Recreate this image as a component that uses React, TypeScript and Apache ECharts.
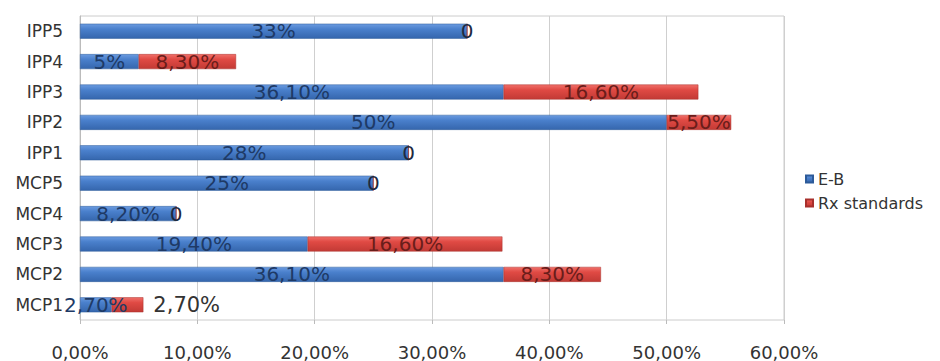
import React, { useEffect, useRef } from "react";
import * as echarts from "echarts";

const categories = ["IPP5", "IPP4", "IPP3", "IPP2", "IPP1", "MCP5", "MCP4", "MCP3", "MCP2", "MCP1"];
const ebValues = [33, 5, 36.1, 50, 28, 25, 8.2, 19.4, 36.1, 2.7];
const rxValues = [0, 8.3, 16.6, 5.5, 0, 0, 0, 16.6, 8.3, 2.7];
const xTicks = [0, 10, 20, 30, 40, 50, 60];
const seriesNames = ["E-B", "Rx standards"];

function fmtValue(v: number): string {
  if (v === 0) return "0";
  if (Number.isInteger(v)) return v + "%";
  return v.toFixed(2).replace(".", ",") + "%";
}

const FONT = "'DejaVu Sans', Verdana, sans-serif";

export default function App() {
  const ref = useRef<HTMLDivElement>(null);
  useEffect(() => {
    if (!ref.current) return;
    const chart = echarts.init(ref.current, null, { renderer: "svg" });
    const blue = new echarts.graphic.LinearGradient(0, 0, 0, 1, [
      { offset: 0, color: "#6b9be0" },
      { offset: 0.35, color: "#4a80cc" },
      { offset: 1, color: "#3566ad" },
    ]);
    const red = new echarts.graphic.LinearGradient(0, 0, 0, 1, [
      { offset: 0, color: "#f0706a" },
      { offset: 0.35, color: "#e04a44" },
      { offset: 1, color: "#c23a35" },
    ]);
    const lastIdx = categories.length - 1;
    chart.setOption({
      animation: false,
      backgroundColor: "#ffffff",
      grid: { left: 80, right: 156, top: 16, bottom: 41, containLabel: false, show: true, borderColor: "#cccccc", borderWidth: 1 },
      legend: {
        orient: "vertical",
        left: 800,
        top: 166,
        itemWidth: 7,
        itemHeight: 7,
        itemGap: 8,
        icon: "rect",
        textStyle: { fontFamily: FONT, fontSize: 16, color: "#333" },
        data: seriesNames,
      },
      xAxis: {
        type: "value",
        min: xTicks[0],
        max: xTicks[xTicks.length - 1],
        interval: 10,
        axisLine: { show: false },
        axisTick: { show: true, length: 4, lineStyle: { color: "#bbb" } },
        splitLine: { show: true, lineStyle: { color: "#cfcfcf", width: 1 } },
        axisLabel: {
          margin: 23,
          fontFamily: FONT,
          fontSize: 18,
          color: "#333",
          formatter: (v: number) => v.toFixed(2).replace(".", ",") + "%",
        },
      },
      yAxis: {
        type: "category",
        inverse: true,
        data: categories,
        axisLine: { show: true, lineStyle: { color: "#bbb" } },
        axisTick: { show: false },
        axisLabel: { margin: 17, fontFamily: FONT, fontSize: 17, color: "#333" },
      },
      series: [
        {
          name: seriesNames[0],
          type: "bar",
          stack: "total",
          barWidth: 15,
          itemStyle: { color: blue, borderColor: "#2c5a99", borderWidth: 0.5 },
          label: {
            show: true,
            position: "inside",
            fontFamily: FONT,
            fontSize: 20,
            color: "#1e3a66",
            formatter: (p: any) => fmtValue(p.value),
          },
          data: ebValues,
        },
        {
          name: seriesNames[1],
          type: "bar",
          stack: "total",
          barWidth: 15,
          itemStyle: { color: red, borderColor: "#a8302c", borderWidth: 0.5 },
          label: {
            show: true,
            position: "inside",
            fontFamily: FONT,
            fontSize: 20,
            color: "#6a1d1a",
            formatter: (p: any) => fmtValue(p.value),
          },
          data: rxValues.map((v, i) =>
            i === lastIdx
              ? { value: v, label: { position: "right", distance: 10, fontSize: 21, color: "#333" } }
              : v === 0
              ? { value: v, label: { color: "#1e2a40" } }
              : v
          ),
        },
      ],
    });
    return () => chart.dispose();
  }, []);
  return <div ref={ref} style={{ position: "fixed", left: 0, top: 0, width: 940, height: 361 }} />;
}
